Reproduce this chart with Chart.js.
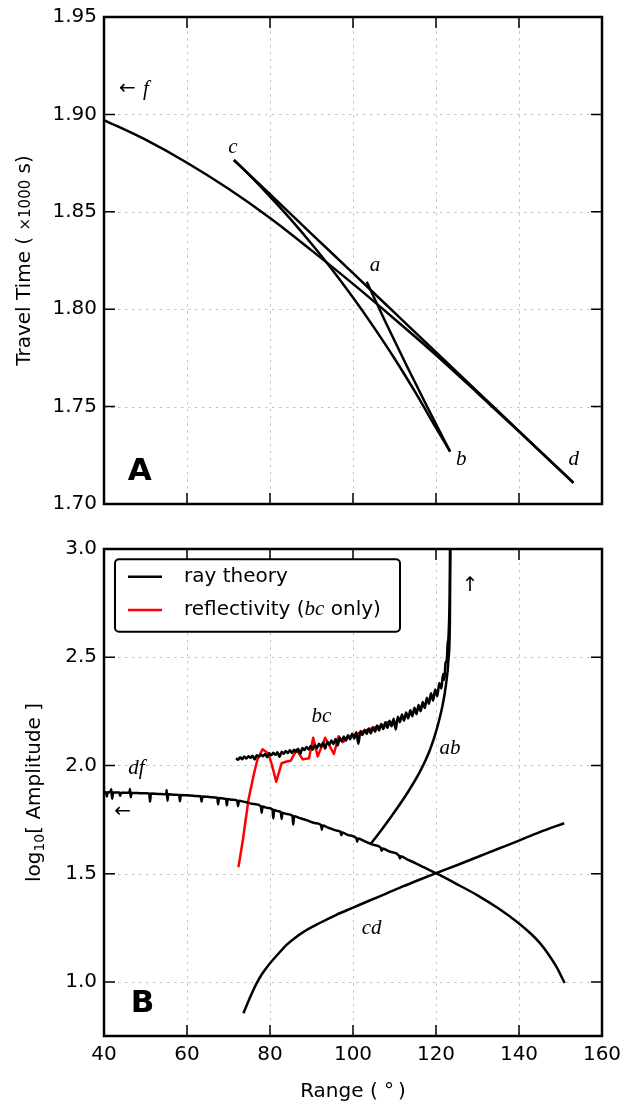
<!DOCTYPE html>
<html>
<head>
<meta charset="utf-8">
<title>Travel time and amplitude versus range</title>
<script src="https://cdn.jsdelivr.net/npm/chart.js@4.4.1/dist/chart.umd.min.js"></script>
<style>
  html, body { margin: 0; padding: 0; background: #ffffff; }
  #figure { position: relative; width: 624px; height: 1106px; overflow: hidden; }
  #figure canvas { position: absolute; left: 0; }
  #timePanel { top: 0; }
  #ampPanel { top: 530px; }
</style>
</head>
<body>
<div id="figure">
  <canvas id="timePanel" width="624" height="530"></canvas>
  <canvas id="ampPanel" width="624" height="576"></canvas>
</div>
<script>
// ---------- shared range axis (degrees) ----------
const rangeTicks = [40, 60, 80, 100, 120, 140, 160];

// ---------- panel A: travel time (x1000 s) of each branch ----------
const timeTicks = [1.70, 1.75, 1.80, 1.85, 1.90, 1.95];

const timeDfRange = [40, 50, 60, 70, 80, 90, 100, 110, 120, 130, 140, 150, 153.1];
const timeDf      = [1.8971, 1.8870, 1.8752, 1.8618, 1.8468, 1.8302, 1.8130, 1.7950, 1.7765, 1.7570, 1.7372, 1.7172, 1.7109];

const timeCdRange = [71.3, 80, 90, 100, 110, 120, 130, 140, 153.1];
const timeCd      = [1.8766, 1.8590, 1.8387, 1.8185, 1.7982, 1.7779, 1.7577, 1.7374, 1.7109];

const timeBcRange = [71.3, 75, 80, 85, 90, 95, 100, 105, 110, 115, 120, 123.4];
const timeBc      = [1.8766, 1.8689, 1.8578, 1.8461, 1.8336, 1.8203, 1.8060, 1.7908, 1.7747, 1.7574, 1.7391, 1.7269];

const timeAbRange = [103.3, 108, 113, 118, 123.4];
const timeAb      = [1.8141, 1.7927, 1.7707, 1.7494, 1.7269];

// ---------- panel B: log10 amplitude of each branch ----------
const ampTicks = [1.0, 1.5, 2.0, 2.5, 3.0];

// df branch, ray theory (with numerical spikes)
const ampDf = [
  [40,1.876],[40.5,1.876],[40.7,1.856],[40.9,1.876],[41.5,1.8758],[41.75,1.890],[41.95,1.846],[42.2,1.875],
  [43,1.8748],[43.7,1.8745],[43.9,1.860],[44.1,1.8743],[45,1.874],[46.1,1.8733],[46.25,1.891],[46.45,1.853],
  [46.65,1.873],[48,1.8722],[50,1.871],[50.9,1.8703],[51.1,1.833],[51.3,1.870],[53,1.8686],[55,1.867],
  [55.1,1.887],[55.3,1.837],[55.5,1.8667],[57,1.865],[58.1,1.864],[58.3,1.834],[58.5,1.8637],[60,1.862],
  [62,1.8592],[63.3,1.8574],[63.5,1.833],[63.7,1.8568],[65,1.855],[66,1.853],[67.3,1.8505],[67.5,1.820],
  [67.7,1.850],[69,1.8465],[69.4,1.8455],[69.6,1.815],[69.8,1.845],[71,1.841],[72.1,1.8377],[72.3,1.812],
  [72.5,1.8365],[74,1.831],[76,1.822],[77.8,1.812],[78,1.781],[78.2,1.810],[79.5,1.803],[80.6,1.7965],
  [80.8,1.755],[81,1.794],[82,1.788],[82.6,1.7845],[82.8,1.753],[83,1.782],[84,1.776],[85.4,1.7675],
  [85.6,1.727],[85.8,1.765],[87,1.758],[89,1.746],[91,1.733],[92.3,1.724],[92.5,1.703],[92.7,1.722],
  [94,1.713],[96,1.699],[97.0,1.6935],[97.2,1.678],[97.4,1.690],[99,1.677],[100.8,1.6645],[101,1.648],
  [101.2,1.662],[103,1.648],[104,1.640],[105,1.633],[106.7,1.6195],[106.9,1.606],[107.1,1.616],[109,1.601],
  [111.1,1.583],[111.3,1.570],[111.5,1.5805],[113,1.566],[115,1.549],[117,1.530],[120,1.502],[125,1.452],
  [130,1.400],[135,1.340],[140,1.270],[143,1.220],[145,1.180],[147,1.130],[149,1.070],[151,0.995]
];

// bc branch, ray theory (noisy, rises to the caustic at b)
const ampBc = [
  [71.8,2.033],[72.3,2.026],[72.8,2.038],[73.3,2.029],[73.8,2.041],[74.3,2.032],[74.8,2.043],[75.3,2.035],
  [75.8,2.045],[76.3,2.028],[76.8,2.047],[77.3,2.040],[77.8,2.050],[78.3,2.043],[78.8,2.053],[79.3,2.038],
  [79.8,2.056],[80.3,2.047],[80.8,2.059],[81.3,2.049],[81.8,2.061],[82.3,2.039],[82.8,2.063],[83.3,2.054],
  [83.8,2.067],[84.3,2.057],[84.8,2.070],[85.3,2.058],[85.8,2.073],[86.3,2.063],[86.8,2.077],[87.3,2.053],
  [87.8,2.081],[88.3,2.071],[88.8,2.085],[89.3,2.074],[89.8,2.090],[90.3,2.073],[90.8,2.096],[91.3,2.080],
  [91.8,2.100],[92.3,2.086],[92.8,2.105],[93.3,2.078],[93.8,2.110],[94.3,2.096],[94.8,2.115],[95.3,2.099],
  [95.8,2.122],[96.3,2.092],[96.8,2.128],[97.3,2.111],[97.8,2.134],[98.3,2.115],[98.8,2.140],[99.3,2.121],
  [99.8,2.146],[100.3,2.124],[100.8,2.153],[101.3,2.100],[101.8,2.159],[102.3,2.141],[102.8,2.165],[103.3,2.146],
  [103.8,2.171],[104.3,2.148],[104.8,2.177],[105.3,2.156],[105.8,2.184],[106.3,2.161],[106.8,2.191],[107.3,2.168],
  [107.8,2.199],[108.3,2.174],[108.8,2.207],[109.3,2.181],[109.8,2.216],[110.3,2.166],[110.8,2.225],[111.3,2.200],
  [111.8,2.235],[112.3,2.207],[112.8,2.245],[113.3,2.217],[113.8,2.255],[114.3,2.227],[114.8,2.266],[115.3,2.237],
  [115.8,2.279],[116.3,2.250],[116.8,2.293],[117.3,2.265],[117.8,2.313],[118.3,2.285],[118.8,2.333],[119.3,2.300],
  [119.8,2.351],[120.3,2.320],[120.8,2.381],[121.3,2.355],[121.7,2.423],[122.0,2.396],[122.3,2.472],[122.6,2.488],
  [122.8,2.560],[123.0,2.590],[123.2,2.700],[123.3,2.800],[123.4,3.100]
];

// ab branch, ray theory (from the df branch up to the caustic)
const ampAb = [
  [104.3,1.638],[106.8,1.701],[109.4,1.769],[112.9,1.867],[116.1,1.970],[118.6,2.075],
  [120.2,2.169],[121.6,2.279],[122.4,2.372],[123.0,2.487],[123.35,2.672],[123.5,3.100]
];

// cd branch, ray theory
const ampCd = [
  [73.6,0.855],[75,0.920],[76.8,0.994],[78,1.034],[80,1.086],[82,1.130],[84,1.171],[86,1.203],
  [88,1.230],[92,1.272],[96,1.310],[100,1.343],[104,1.376],[108,1.408],[112,1.441],[116,1.472],
  [120,1.502],[125,1.539],[130,1.577],[135,1.615],[140,1.653],[145,1.692],[150.9,1.733]
];

// bc branch from the reflectivity calculation
const ampReflectivity = [
  [72.4,1.530],[73.5,1.660],[74.8,1.840],[76.0,1.950],[77.0,2.030],[78.2,2.075],[79.6,2.055],[80.5,2.000],
  [81.5,1.925],[82.8,2.010],[84.0,2.018],[85.0,2.022],[86.4,2.072],[87.9,2.028],[89.4,2.033],[90.4,2.128],
  [91.5,2.042],[93.3,2.128],[95.4,2.053],[96.5,2.135],[97.6,2.108],[98.5,2.126],[100.0,2.138],[101.7,2.152],
  [103.5,2.165],[105.7,2.178],[107.5,2.185],[108.3,2.200],[110.5,2.196]
];

// ---------- styling helpers ----------
const SANS = "'DejaVu Sans', 'Liberation Sans', sans-serif";
const SERIF = "'Liberation Serif', 'DejaVu Serif', serif";
const sans = (px, w) => `${w ? w + ' ' : ''}${px}px ${SANS}`;
const mathItalic = px => `italic ${px}px ${SERIF}`;

Chart.defaults.font.family = SANS;
Chart.defaults.color = '#000000';

const fromArrays = (xs, ys) => xs.map((x, i) => ({ x: x, y: ys[i] }));
const fromPairs = pairs => pairs.map(p => ({ x: p[0], y: p[1] }));

function branch(label, data, color, extra) {
  return Object.assign({
    label: label,
    data: data,
    showLine: true,
    borderColor: color,
    backgroundColor: color,
    borderWidth: 2.5,
    pointRadius: 0,
    pointHoverRadius: 0,
    fill: false,
    cubicInterpolationMode: 'monotone',
    borderJoinStyle: 'round',
    clip: 0
  }, extra || {});
}

function scales(opts) {
  return {
    x: {
      type: 'linear', min: 40, max: 160,
      afterBuildTicks: s => { s.ticks = rangeTicks.map(v => ({ value: v })); },
      ticks: { display: opts.xLabels, padding: 7, font: { size: 20 }, color: '#000', callback: v => String(v) },
      grid: { display: false, drawTicks: false },
      border: { display: false },
      afterFit: s => { s.height = opts.xHeight; s.paddingLeft = 0; s.paddingRight = 0; }
    },
    y: {
      type: 'linear', min: opts.yMin, max: opts.yMax,
      afterBuildTicks: s => { s.ticks = opts.yTicks.map(v => ({ value: v })); },
      ticks: { padding: 7, font: { size: 20 }, color: '#000', callback: v => v.toFixed(opts.yDigits) },
      grid: { display: false, drawTicks: false },
      border: { display: false },
      afterFit: s => { s.width = 104; s.paddingTop = 0; s.paddingBottom = 0; }
    }
  };
}

// Draws a run of differently styled text pieces centred on cx.
function drawPieces(ctx, pieces, cx, baseline) {
  let total = 0;
  pieces.forEach(p => { ctx.font = p.font; total += ctx.measureText(p.t).width; });
  let x = cx - total / 2;
  ctx.textAlign = 'left';
  ctx.textBaseline = 'alphabetic';
  pieces.forEach(p => {
    ctx.font = p.font;
    ctx.fillText(p.t, x, baseline + (p.dy || 0));
    x += ctx.measureText(p.t).width;
  });
}

function roundedRect(ctx, x, y, w, h, r) {
  ctx.beginPath();
  ctx.moveTo(x + r, y);
  ctx.arcTo(x + w, y, x + w, y + h, r);
  ctx.arcTo(x + w, y + h, x, y + h, r);
  ctx.arcTo(x, y + h, x, y, r);
  ctx.arcTo(x, y, x + w, y, r);
  ctx.closePath();
}

// Frame, dotted grid, inward ticks, branch labels, axis titles and legend.
function panelDecor(cfg) {
  return {
    id: 'panelDecor',
    beforeDatasetsDraw(chart) {
      const { ctx, chartArea: a } = chart;
      const sx = chart.scales.x, sy = chart.scales.y;
      ctx.save();
      ctx.strokeStyle = '#c4c4c4';
      ctx.lineWidth = 1;
      ctx.setLineDash([2.5, 4.5]);
      ctx.beginPath();
      sx.ticks.forEach(t => {
        const p = Math.round(sx.getPixelForValue(t.value)) + 0.5;
        if (p <= a.left + 2 || p >= a.right - 2) return;
        ctx.moveTo(p, a.top); ctx.lineTo(p, a.bottom);
      });
      sy.ticks.forEach(t => {
        const p = Math.round(sy.getPixelForValue(t.value)) + 0.5;
        if (p <= a.top + 2 || p >= a.bottom - 2) return;
        ctx.moveTo(a.left, p); ctx.lineTo(a.right, p);
      });
      ctx.stroke();
      ctx.restore();
    },
    afterDatasetsDraw(chart) {
      const { ctx, chartArea: a } = chart;
      const sx = chart.scales.x, sy = chart.scales.y;
      const TL = 11;
      ctx.save();
      ctx.setLineDash([]);
      ctx.strokeStyle = '#000';
      ctx.lineWidth = 1.5;
      ctx.beginPath();
      sx.ticks.forEach(t => {
        const p = sx.getPixelForValue(t.value);
        if (p <= a.left + 1 || p >= a.right - 1) return;
        ctx.moveTo(p, a.bottom); ctx.lineTo(p, a.bottom - TL);
        ctx.moveTo(p, a.top); ctx.lineTo(p, a.top + TL);
      });
      sy.ticks.forEach(t => {
        const p = sy.getPixelForValue(t.value);
        if (p <= a.top + 1 || p >= a.bottom - 1) return;
        ctx.moveTo(a.left, p); ctx.lineTo(a.left + TL, p);
        ctx.moveTo(a.right, p); ctx.lineTo(a.right - TL, p);
      });
      ctx.stroke();
      ctx.lineWidth = 2.5;
      ctx.strokeRect(a.left, a.top, a.right - a.left, a.bottom - a.top);

      // branch labels placed in data coordinates
      ctx.fillStyle = '#000';
      cfg.notes.forEach(n => {
        ctx.font = n.font;
        ctx.textAlign = 'center';
        ctx.textBaseline = n.middle ? 'middle' : 'alphabetic';
        ctx.fillText(n.t, sx.getPixelForValue(n.x), sy.getPixelForValue(n.y));
      });

      // vertical axis title
      const cy = (a.top + a.bottom) / 2;
      ctx.save();
      ctx.translate(cfg.yTitle.x, cy);
      ctx.rotate(-Math.PI / 2);
      drawPieces(ctx, cfg.yTitle.parts, 0, 0);
      ctx.restore();

      // horizontal axis title
      if (cfg.xTitle) {
        drawPieces(ctx, cfg.xTitle.parts, (a.left + a.right) / 2, a.bottom + cfg.xTitle.offset);
      }
      ctx.restore();
    },
    afterDraw(chart) {
      if (!cfg.legend) return;
      const { ctx, chartArea: a } = chart;
      const L = cfg.legend;
      const bx = a.left + 11, by = a.top + 10.3;
      ctx.save();
      roundedRect(ctx, bx, by, L.width, L.height, 4);
      ctx.fillStyle = '#fff';
      ctx.fill();
      ctx.lineWidth = 2;
      ctx.strokeStyle = '#000';
      ctx.stroke();
      L.items.forEach((item, i) => {
        const ds = chart.data.datasets[item.dataset];
        const ly = by + 17.4 + i * 33.3;
        ctx.beginPath();
        ctx.strokeStyle = ds.borderColor;
        ctx.lineWidth = ds.borderWidth;
        ctx.moveTo(bx + 13, ly); ctx.lineTo(bx + 47, ly);
        ctx.stroke();
        ctx.fillStyle = '#000';
        let x = bx + 69;
        ctx.textAlign = 'left';
        ctx.textBaseline = 'middle';
        item.parts.forEach(p => {
          ctx.font = p.font;
          ctx.fillText(p.t, x, ly + (p.dy || 0));
          x += ctx.measureText(p.t).width;
        });
      });
      ctx.restore();
    }
  };
}

const commonOptions = {
  responsive: false,
  maintainAspectRatio: false,
  animation: false,
  events: [],
  plugins: { legend: { display: false }, tooltip: { enabled: false } }
};

// ---------- panel A ----------
new Chart(document.getElementById('timePanel'), {
  type: 'scatter',
  data: {
    datasets: [
      branch('df', fromArrays(timeDfRange, timeDf), '#000'),
      branch('cd', fromArrays(timeCdRange, timeCd), '#000'),
      branch('bc', fromArrays(timeBcRange, timeBc), '#000'),
      branch('ab', fromArrays(timeAbRange, timeAb), '#000')
    ]
  },
  options: Object.assign({}, commonOptions, {
    layout: { padding: { top: 17, right: 22, bottom: 0, left: 0 } },
    scales: scales({ xLabels: false, xHeight: 26, yMin: 1.70, yMax: 1.95, yTicks: timeTicks, yDigits: 2 })
  }),
  plugins: [panelDecor({
    notes: [
      { t: '\u2190', x: 45.66, y: 1.913, font: sans(20), middle: true },
      { t: 'f', x: 50.1, y: 1.9100, font: mathItalic(21) },
      { t: 'c', x: 71.08, y: 1.8800, font: mathItalic(21) },
      { t: 'a', x: 105.3, y: 1.8198, font: mathItalic(21) },
      { t: 'b', x: 126.1, y: 1.7200, font: mathItalic(21) },
      { t: 'd', x: 153.2, y: 1.7200, font: mathItalic(21) },
      { t: 'A', x: 48.6, y: 1.7123, font: sans(31, 'bold') }
    ],
    yTitle: { x: 30, parts: [
      { t: 'Travel Time ( ', font: sans(20) },
      { t: '\u00d71000', font: sans(15) },
      { t: ' s)', font: sans(20) }
    ] }
  })]
});

// ---------- panel B ----------
new Chart(document.getElementById('ampPanel'), {
  type: 'scatter',
  data: {
    datasets: [
      branch('ray theory', fromPairs(ampDf), '#000'),
      branch('ray theory bc', fromPairs(ampBc), '#000'),
      branch('ray theory ab', fromPairs(ampAb), '#000'),
      branch('ray theory cd', fromPairs(ampCd), '#000'),
      branch('reflectivity (bc only)', fromPairs(ampReflectivity), '#ff0000', { cubicInterpolationMode: 'default', tension: 0 })
    ]
  },
  options: Object.assign({}, commonOptions, {
    layout: { padding: { top: 19, right: 22, bottom: 0, left: 0 } },
    scales: scales({ xLabels: true, xHeight: 70, yMin: 0.75, yMax: 3.0, yTicks: ampTicks, yDigits: 1 })
  }),
  plugins: [panelDecor({
    notes: [
      { t: 'bc', x: 92.4, y: 2.2023, font: mathItalic(21) },
      { t: 'df', x: 47.8, y: 1.9584, font: mathItalic(21) },
      { t: '\u2190', x: 44.46, y: 1.7866, font: sans(20), middle: true },
      { t: 'ab', x: 123.4, y: 2.0531, font: mathItalic(21) },
      { t: 'cd', x: 104.5, y: 1.2217, font: mathItalic(21) },
      { t: '\u2191', x: 128.2, y: 2.830, font: sans(20), middle: true },
      { t: 'B', x: 49.28, y: 0.8628, font: sans(31, 'bold') }
    ],
    yTitle: { x: 40, parts: [
      { t: 'log', font: sans(20) },
      { t: '10', font: sans(14), dy: 4 },
      { t: '[ Amplitude ]', font: sans(20) }
    ] },
    xTitle: { offset: 60.5, parts: [ { t: 'Range ( \u00b0\u2009)', font: sans(20) } ] },
    legend: {
      width: 285, height: 72.4,
      items: [
        { dataset: 0, parts: [ { t: 'ray theory', font: sans(20) } ] },
        { dataset: 4, parts: [
          { t: 'reflectivity (', font: sans(20) },
          { t: 'bc', font: mathItalic(21), dy: -1 },
          { t: ' only)', font: sans(20) }
        ] }
      ]
    }
  })]
});
</script>
</body>
</html>
